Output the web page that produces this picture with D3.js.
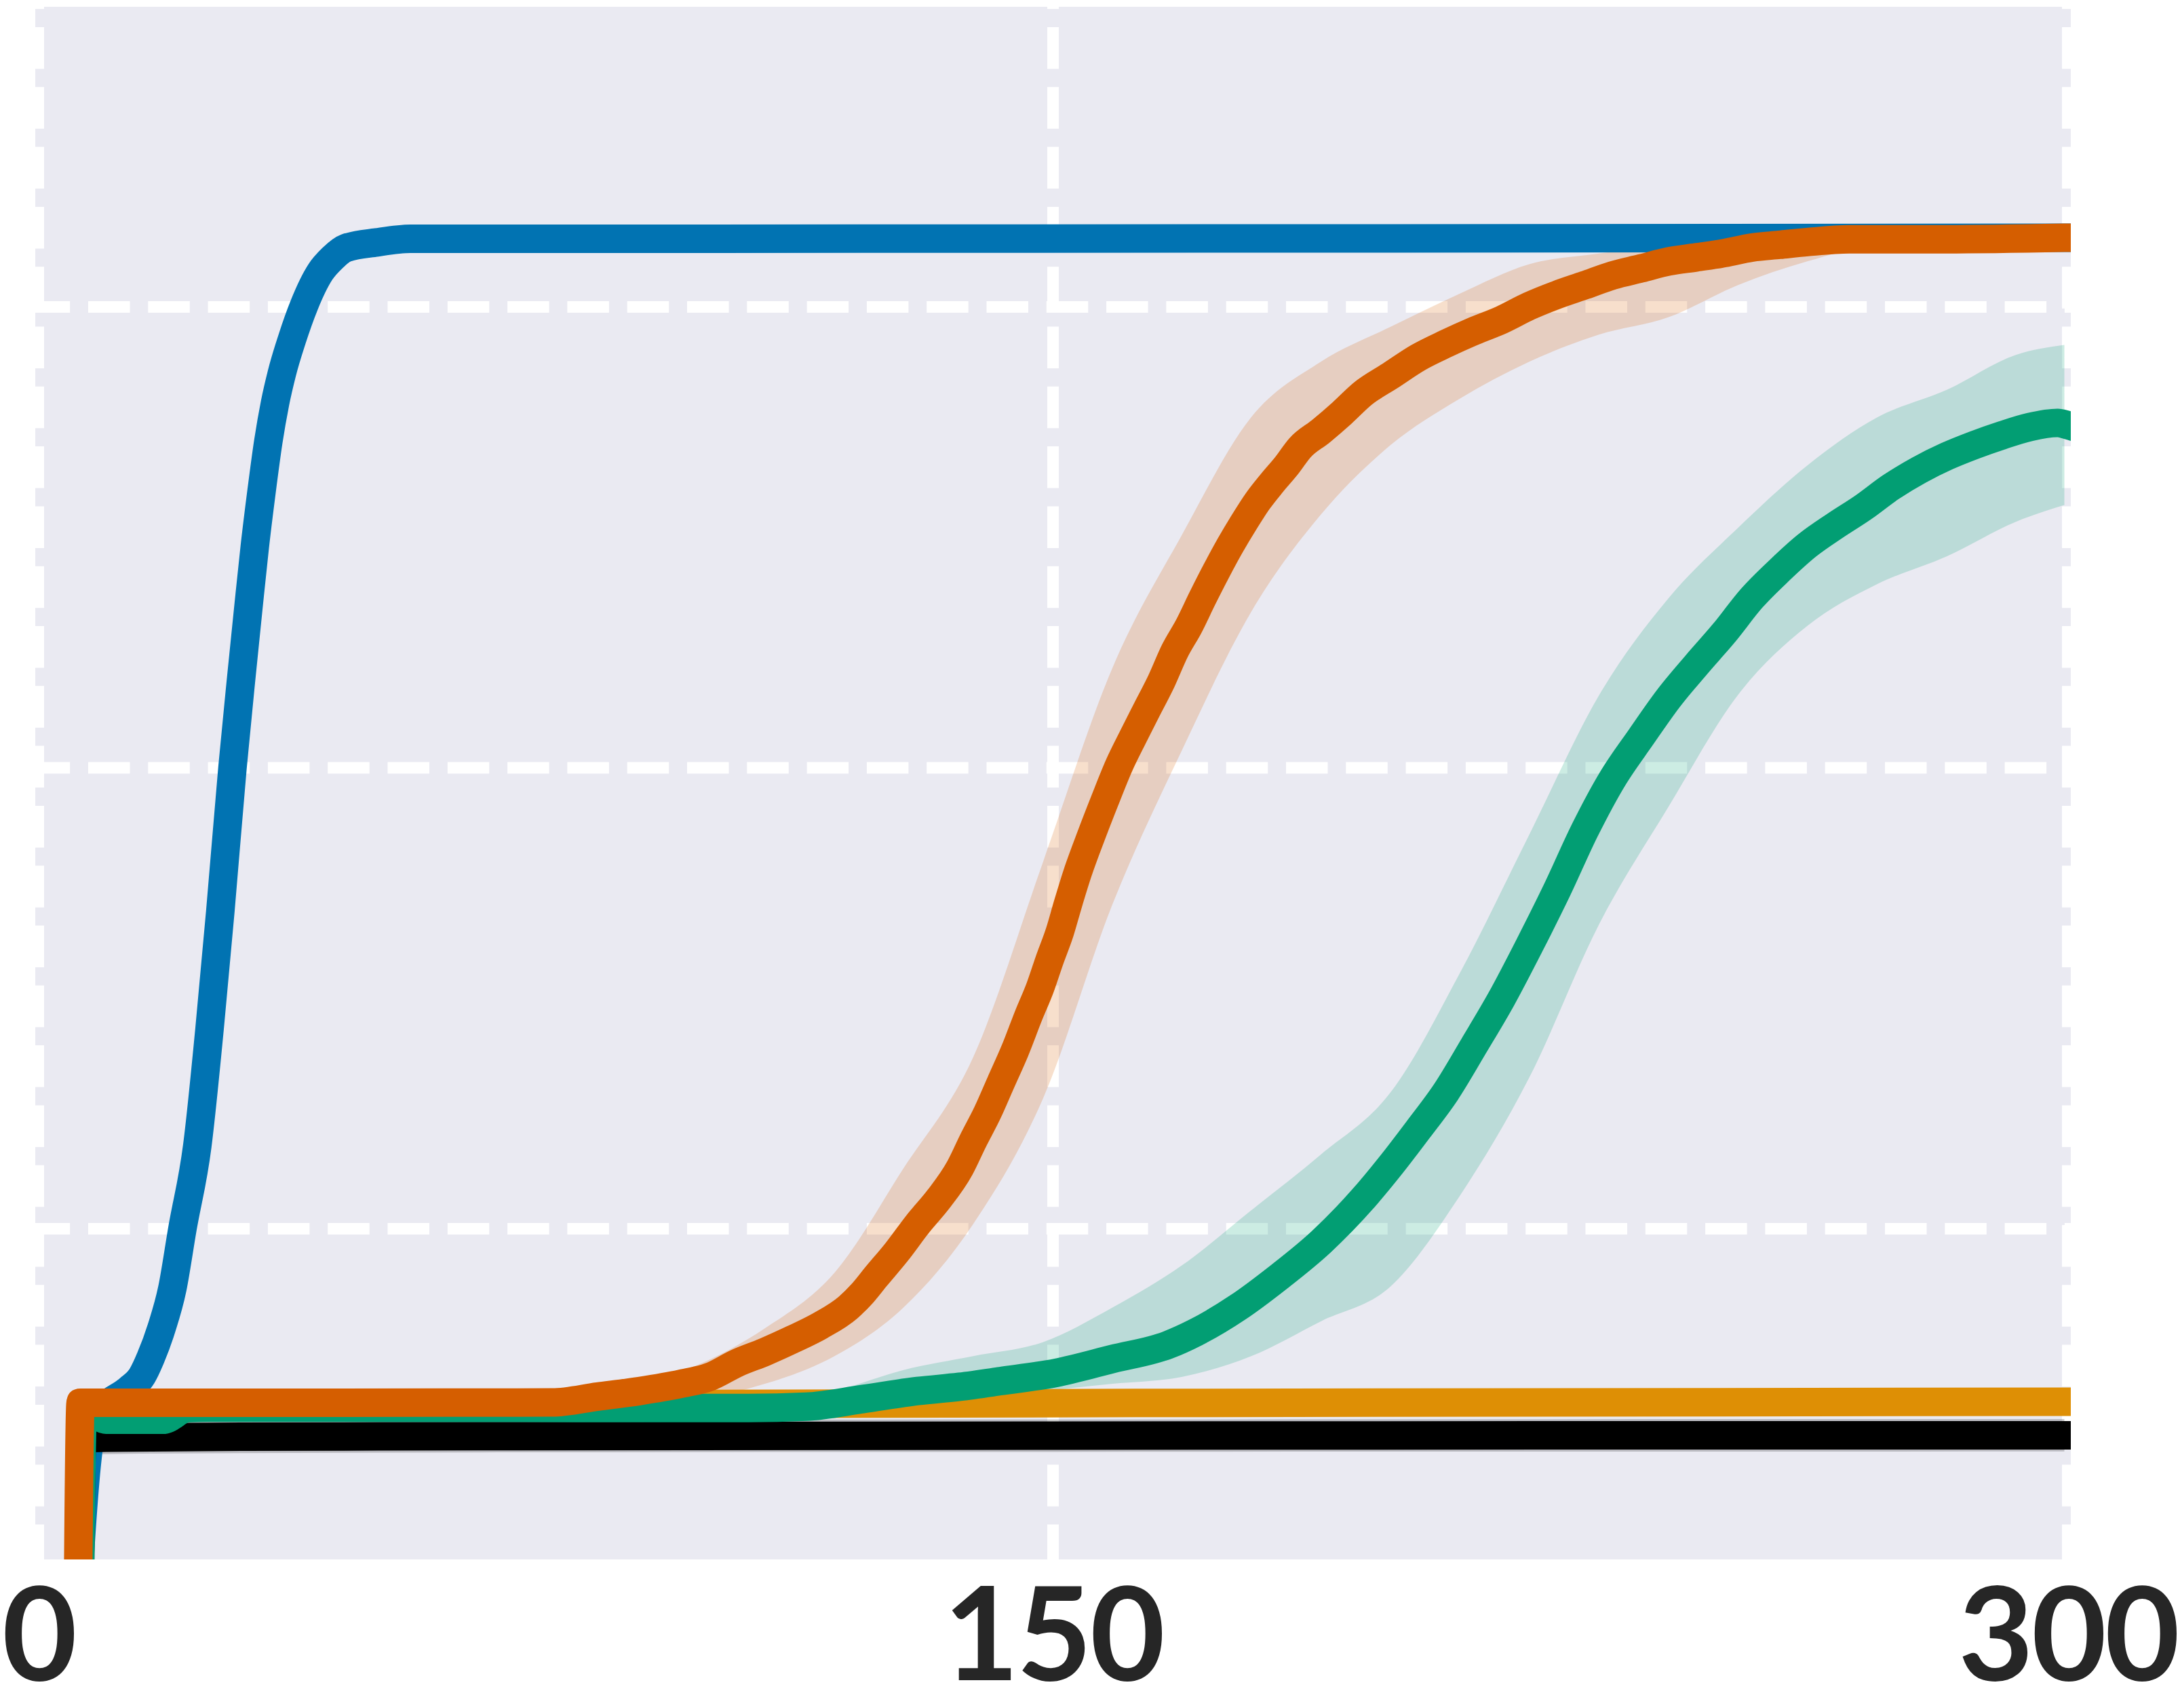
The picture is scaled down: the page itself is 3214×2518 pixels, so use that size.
<!DOCTYPE html>
<html><head><meta charset="utf-8">
<script src="https://cdn.jsdelivr.net/npm/d3@7"></script>
<style>html,body{margin:0;padding:0;background:#fff;} svg{display:block;}</style>
</head><body>
<script>
// ---- tick / grid values ----
const xTicks = [0, 150, 300];
const xTickLabels = ["0", "150", "300"];
const yGridValues = [0.25, 0.5, 0.75];

// ---- series: blue ----
const blueX = [5.0, 7.3, 8.4, 10.4, 13.4, 15.3, 16.6, 18.2, 19.8, 21.3, 23.5, 25.3, 26.9, 28.7, 30.0, 31.0, 32.0, 33.0, 34.0, 35.0, 36.0, 37.5, 39.3, 41.7, 43.5, 45.5, 50.0, 55.0, 100.0, 200.0, 299.5];
const blueY = [0.0, 0.127, 0.150, 0.1556, 0.163, 0.170, 0.180, 0.196, 0.2174, 0.25, 0.295, 0.358, 0.422, 0.5, 0.549, 0.585, 0.62, 0.65, 0.677, 0.698, 0.714, 0.7325, 0.751, 0.769, 0.7766, 0.782, 0.785, 0.787, 0.787, 0.7872, 0.7875];

// ---- series: black ----
const blackX = [6.0, 6.5, 10, 30, 65, 150, 299.5];
const blackY = [0.0, 0.1362, 0.1367, 0.1372, 0.1375, 0.1378, 0.138];
const blackLo = [0.0, 0.1275, 0.1278, 0.1283, 0.1287, 0.129, 0.1292];
const blackHi = [0.0, 0.1452, 0.1457, 0.1461, 0.1463, 0.1466, 0.1468];

// ---- series: yellow-orange ----
const yellowX = [5.9, 6.4, 25, 100, 200, 299.5];
const yellowY = [0.0, 0.1535, 0.1538, 0.155, 0.1557, 0.1562];

// ---- series: green ----
const greenX = [6.0, 6.6, 8.3, 10, 14, 18.4, 22, 25, 40, 80, 105, 113.5, 121.8, 130.0, 136.2, 142.3, 150.5, 158.8, 167.0, 171.1, 177.3, 183.4, 189.6, 195.8, 199.9, 204.0, 208.1, 212.2, 216.3, 220.4, 224.5, 228.6, 232.7, 236.9, 241.0, 245.1, 249.2, 253.3, 257.4, 261.5, 265.6, 269.7, 273.9, 278.0, 282.1, 286.2, 290.3, 294.4, 298.5, 299.5];
const greenY = [0.0, 0.15, 0.149, 0.1464, 0.1464, 0.1464, 0.1527, 0.153, 0.153, 0.1528, 0.1528, 0.1535, 0.1576, 0.162, 0.1643, 0.1674, 0.1719, 0.1794, 0.187, 0.1938, 0.2073, 0.2239, 0.2428, 0.2662, 0.2843, 0.3039, 0.3243, 0.3492, 0.3748, 0.4035, 0.4337, 0.4661, 0.494, 0.5166, 0.5378, 0.5559, 0.5732, 0.5921, 0.6072, 0.6207, 0.6313, 0.6411, 0.6524, 0.6615, 0.669, 0.6751, 0.6804, 0.6849, 0.6871, 0.6864];
const greenBandX = [105, 117.7, 127.9, 138.2, 148.5, 158.8, 169.0, 179.3, 189.6, 199.9, 210.1, 220.4, 230.7, 241.0, 251.2, 261.5, 271.8, 282.1, 292.4, 299.5];
const greenLo = [0.152, 0.151, 0.153, 0.1583, 0.162, 0.1659, 0.1696, 0.1809, 0.1998, 0.2187, 0.2677, 0.332, 0.415, 0.479, 0.5393, 0.577, 0.5996, 0.6147, 0.6336, 0.6426];
const greenHi = [0.154, 0.162, 0.1734, 0.1809, 0.1885, 0.2073, 0.23, 0.26, 0.2903, 0.324, 0.3884, 0.4638, 0.5393, 0.5921, 0.63, 0.664, 0.69, 0.705, 0.7241, 0.7294];

// ---- series: vermilion ----
const vermX = [5.75, 6.25, 20, 60, 76, 82.7, 88.9, 95.0, 99.2, 103.3, 107.4, 111.5, 115.6, 119.7, 121.8, 123.8, 126.9, 130.0, 133.1, 136.2, 138.2, 140.3, 142.3, 144.4, 146.4, 148.1, 149.5, 151.0, 152.2, 153.6, 155.7, 157.7, 159.8, 161.8, 163.9, 166.0, 168.0, 170.1, 172.1, 174.2, 176.2, 178.3, 180.3, 182.4, 184.5, 186.5, 189.6, 192.7, 195.8, 199.9, 204.0, 208.1, 212.2, 216.3, 220.4, 224.5, 228.6, 232.7, 236.9, 241.0, 245.1, 249.2, 253.3, 257.4, 261.5, 267.7, 282.0, 299.5];
const vermY = [0.0, 0.1556, 0.1556, 0.1557, 0.1558, 0.159, 0.162, 0.1659, 0.1696, 0.1772, 0.1832, 0.19, 0.1975, 0.2073, 0.2149, 0.2239, 0.2375, 0.2526, 0.2662, 0.2828, 0.2979, 0.3129, 0.3295, 0.3469, 0.3658, 0.3809, 0.3959, 0.411, 0.4261, 0.4427, 0.4638, 0.4827, 0.5016, 0.5166, 0.5318, 0.5469, 0.5634, 0.577, 0.5921, 0.6072, 0.6207, 0.6336, 0.6449, 0.6547, 0.6638, 0.6736, 0.6826, 0.6924, 0.703, 0.7128, 0.7226, 0.7301, 0.7369, 0.743, 0.7505, 0.7566, 0.7618, 0.7671, 0.7709, 0.7747, 0.7769, 0.7792, 0.7822, 0.7837, 0.7852, 0.7867, 0.7867, 0.7875];
const vermBandX = [76, 88.9, 97.1, 107.4, 117.7, 127.9, 138.2, 148.5, 158.8, 169.0, 179.3, 189.6, 199.9, 210.0, 220.4, 230.7, 241.0, 251.2, 261.5, 271.8, 282.1, 299.5];
const vermLo = [0.1556, 0.158, 0.1583, 0.1659, 0.1809, 0.2073, 0.2526, 0.3205, 0.4261, 0.5091, 0.5846, 0.6374, 0.6751, 0.70, 0.7203, 0.735, 0.7445, 0.7618, 0.7747, 0.7837, 0.7852, 0.787];
const vermHi = [0.156, 0.166, 0.1756, 0.196, 0.2262, 0.2828, 0.3431, 0.4487, 0.5544, 0.626, 0.6902, 0.7203, 0.7392, 0.757, 0.7732, 0.779, 0.7837, 0.7867, 0.7882, 0.7882, 0.7875, 0.788];

// ---- layout ----
const W = 3214, H = 2518;
const plot = {left: 52, right: 3053, top: 10, bottom: 2299};
const svg = d3.select('body').append('svg').attr('width', W).attr('height', H);
svg.append('rect').attr('width', W).attr('height', H).attr('fill', '#ffffff');

const x = d3.scaleLinear().domain([0, 300]).range([56.5, 3048.5]);
const y = d3.scaleLinear().domain([0.25, 0.75]).range([1811.5, 452.5]);

svg.append('defs').append('clipPath').attr('id', 'clip').append('rect')
  .attr('x', plot.left).attr('y', plot.top)
  .attr('width', plot.right - plot.left).attr('height', plot.bottom - plot.top);

svg.append('rect').attr('x', plot.left).attr('y', plot.top)
  .attr('width', plot.right - plot.left).attr('height', plot.bottom - plot.top)
  .attr('fill', '#eaeaf2');

const grid = svg.append('g').attr('clip-path', 'url(#clip)');
grid.selectAll('line.h').data(yGridValues).join('line').attr('class', 'h')
  .attr('x1', plot.left).attr('x2', plot.right)
  .attr('y1', d => y(d)).attr('y2', d => y(d))
  .attr('stroke', '#ffffff').attr('stroke-width', 17)
  .attr('stroke-dasharray', '61.5 26.8').attr('stroke-dashoffset', 10.3);
grid.selectAll('line.v').data(xTicks).join('line').attr('class', 'v')
  .attr('x1', d => x(d)).attr('x2', d => x(d))
  .attr('y1', plot.top).attr('y2', plot.bottom)
  .attr('stroke', '#ffffff').attr('stroke-width', 17)
  .attr('stroke-dasharray', '61.5 26.8').attr('stroke-dashoffset', 58.3);

const data = svg.append('g').attr('clip-path', 'url(#clip)');
const zip2 = (xs, ys) => xs.map((v, i) => [v, ys[i]]);
const zip3 = (xs, lo, hi) => xs.map((v, i) => [v, lo[i], hi[i]]);
const lineGen = d3.line().x(d => x(d[0])).y(d => y(d[1])).curve(d3.curveMonotoneX);
const areaGen = d3.area().x(d => x(d[0])).y0(d => y(d[1])).y1(d => y(d[2])).curve(d3.curveMonotoneX);

const bands = [
  {d: zip3(blackX, blackLo, blackHi), c: '#000000'},
  {d: zip3(greenBandX, greenLo, greenHi), c: '#029e73'},
  {d: zip3(vermBandX, vermLo, vermHi), c: '#d55e00'}
];
data.selectAll('path.band').data(bands).join('path').attr('class', 'band')
  .attr('d', b => areaGen(b.d)).attr('fill', b => b.c).attr('fill-opacity', 0.2).attr('stroke', 'none');

const series = [
  {d: zip2(blueX, blueY), c: '#0173b2'},
  {d: zip2(blackX, blackY), c: '#000000'},
  {d: zip2(yellowX, yellowY), c: '#de8f05'},
  {d: zip2(greenX, greenY), c: '#029e73'},
  {d: zip2(vermX, vermY), c: '#d55e00'}
];
data.selectAll('path.line').data(series).join('path').attr('class', 'line')
  .attr('d', s => lineGen(s.d)).attr('fill', 'none').attr('stroke', s => s.c)
  .attr('stroke-width', 42).attr('stroke-linejoin', 'round').attr('stroke-linecap', 'square');

const axis = d3.axisBottom(x).tickValues(xTicks).tickFormat((d, i) => xTickLabels[i])
  .tickSize(0).tickPadding(42);
const ax = svg.append('g').attr('transform', `translate(0,${plot.bottom})`).call(axis);
ax.select('.domain').remove();
ax.selectAll('text').attr('font-family', 'Lato, sans-serif').attr('font-weight', 700)
  .attr('font-size', 191).attr('letter-spacing', -3).attr('fill', '#262626');
</script>
</body></html>
